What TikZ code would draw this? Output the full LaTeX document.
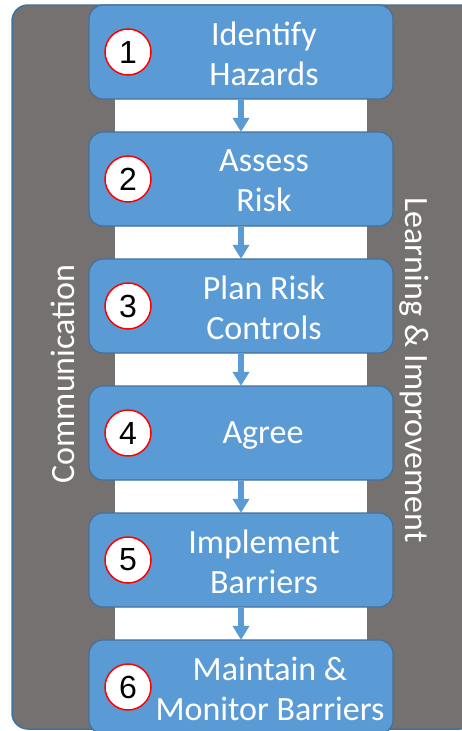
\documentclass[tikz,border=0pt]{standalone}
\usepackage{fontspec}
\setmainfont{Carlito}
\newfontfamily\numfont{Liberation Sans}
\usetikzlibrary{arrows.meta}
\definecolor{boxblue}{HTML}{5B9BD5}
\definecolor{boxedge}{HTML}{41719C}
\definecolor{graybg}{HTML}{767171}
\begin{document}
\begin{tikzpicture}[x=1pt,y=-1pt,
  stepbox/.style={draw=boxedge, line width=1.2pt, fill=boxblue, rounded corners=14pt,
    minimum width=304pt, minimum height=94pt, inner sep=0pt},
  steptext/.style={text=white, align=center, inner sep=0pt,
    font=\fontsize{34}{40}\selectfont},
  sidetext/.style={text=white, inner sep=0pt, font=\fontsize{34}{40}\selectfont},
  numcirc/.style={circle, draw=red, line width=1.5pt, fill=white, minimum size=46pt,
    inner sep=0pt, font=\numfont\fontsize{32}{32}\selectfont},
  flow/.style={boxblue, line width=6pt, -{Triangle[width=16pt,length=14pt]}, shorten >=-0.5pt}
]
\useasboundingbox (0,0) rectangle (462,731);
\begin{scope}
\clip (0,0) rectangle (462,731);
\draw[draw=boxedge, line width=1.5pt, fill=graybg, rounded corners=16pt] (12,5) rectangle (476,729);
\end{scope}
\fill[white] (115,95) rectangle (367,644);

\foreach \i/\y in {1/52,2/179,3/306,4/433,5/560,6/687}{
  \node[stepbox] (b\i) at (241,\y) {};
  \node[numcirc] (c\i) at (128,\y) {\i};
}
\node[steptext] (t1) at (264,54) {Identify\\Hazards};
\node[steptext] (t2) at (264,181) {Assess\\Risk};
\node[steptext] (t3) at (264,308) {Plan Risk\\Controls};
\node[steptext] (t4) at (263,436) {Agree};
\node[steptext] (t5) at (264,562) {Implement\\Barriers};
\node[steptext] (t6) at (270,689) {Maintain \&\\Monitor Barriers};

\foreach \a/\b in {1/2,2/3,3/4,4/5,5/6}{
  \draw[flow] (b\a.south) -- (b\b.north);
}

\node[sidetext, rotate=90] (comm) at (63,374) {Communication};
\node[sidetext, rotate=-90] (learn) at (414,370) {Learning \& Improvement};
\end{tikzpicture}
\end{document}
